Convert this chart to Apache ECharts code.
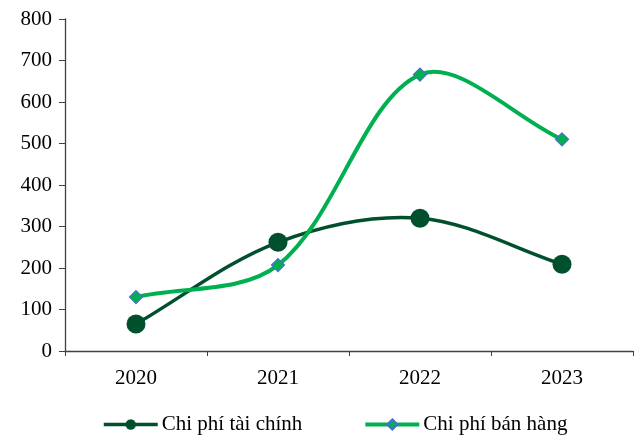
<!DOCTYPE html>
<html><head><meta charset="utf-8">
<script src="https://cdn.jsdelivr.net/npm/echarts@6/dist/echarts.min.js"></script>
<style>html,body{margin:0;padding:0;background:#fff}#c{width:642px;height:436px}</style>
</head><body><div id="c"></div>
<script>
var categories = ['2020', '2021', '2022', '2023'];
var taiChinh = [65, 262, 320, 209];
var banHang = [130, 207, 666, 510];
var yTicks = {min: 0, max: 800, interval: 100};
var font = '"Liberation Serif", "Times New Roman", serif';
var DARK = '#00502E', LIGHT = '#00B050';

// Excel-like smooth curve (Catmull-Rom style Bezier, tension 1/6, length weighted)
function smoothRenderer(values, color, width) {
  return function (params, api) {
    var i = params.dataIndex;
    if (i >= values.length - 1) return null;
    var P = function (k) {
      k = Math.max(0, Math.min(values.length - 1, k));
      return api.coord([k, values[k]]);
    };
    var p0 = P(i - 1), p1 = P(i), p2 = P(i + 1), p3 = P(i + 2);
    var d = function (a, b) { return Math.hypot(b[0] - a[0], b[1] - a[1]); };
    var d01 = d(p0, p1), d12 = d(p1, p2), d23 = d(p2, p3);
    var f = 1 / 6;
    var f1 = (d01 + d12) > 0 ? f * 2 * d12 / (d01 + d12) : 0;
    var f2 = (d12 + d23) > 0 ? f * 2 * d12 / (d12 + d23) : 0;
    var c1 = [p1[0] + (p2[0] - p0[0]) * f1, p1[1] + (p2[1] - p0[1]) * f1];
    var c2 = [p2[0] - (p3[0] - p1[0]) * f2, p2[1] - (p3[1] - p1[1]) * f2];
    return {
      type: 'bezierCurve',
      shape: {x1: p1[0], y1: p1[1], cpx1: c1[0], cpy1: c1[1], cpx2: c2[0], cpy2: c2[1], x2: p2[0], y2: p2[1]},
      style: {stroke: color, lineWidth: width, fill: null, lineCap: 'round'}
    };
  };
}
function idx(values) { return values.map(function (v, k) { return [k, v]; }); }

var chart = echarts.init(document.getElementById('c'));
chart.setOption({
  animation: false,
  grid: {left: 65, right: 9, top: 19, bottom: 85, containLabel: false},
  xAxis: {
    type: 'category', data: categories, boundaryGap: true,
    axisLine: {lineStyle: {color: '#404040', width: 1.3}},
    axisTick: {show: true, length: 5, lineStyle: {color: '#404040'}},
    axisLabel: {color: '#000', fontFamily: font, fontSize: 21, margin: 17}
  },
  yAxis: {
    type: 'value', min: yTicks.min, max: yTicks.max, interval: yTicks.interval,
    splitLine: {show: false},
    axisLine: {show: true, lineStyle: {color: '#404040', width: 1.3}},
    axisTick: {show: true, length: 6, lineStyle: {color: '#404040'}},
    axisLabel: {color: '#000', fontFamily: font, fontSize: 21, margin: 13}
  },
  legend: {
    top: 409, left: 97, itemGap: 61, itemWidth: 54, itemHeight: 13,
    textStyle: {color: '#000', fontFamily: font, fontSize: 21, padding: [0, 0, 0, -1]},
    data: [
      {name: 'Chi phí tài chính', lineStyle: {color: DARK, width: 3.5, opacity: 1}},
      {name: 'Chi phí bán hàng', lineStyle: {color: LIGHT, width: 4, opacity: 1}}
    ]
  },
  series: [
    {
      name: 'curve1', type: 'custom', data: idx(taiChinh), encode: {x: 0, y: 1},
      renderItem: smoothRenderer(taiChinh, DARK, 3.5), z: 1, silent: true
    },
    {
      name: 'curve2', type: 'custom', data: idx(banHang), encode: {x: 0, y: 1},
      renderItem: smoothRenderer(banHang, LIGHT, 4), z: 1, silent: true
    },
    {
      name: 'Chi phí tài chính', type: 'line', data: taiChinh,
      symbol: 'circle', symbolSize: 19,
      lineStyle: {color: DARK, width: 3.5, opacity: 0},
      itemStyle: {color: DARK, borderWidth: 0},
      z: 3
    },
    {
      name: 'Chi phí bán hàng', type: 'line', data: banHang,
      symbol: 'diamond', symbolSize: 13,
      lineStyle: {color: LIGHT, width: 4, opacity: 0},
      itemStyle: {color: LIGHT, borderColor: '#4472C4', borderWidth: 1.2},
      z: 4
    }
  ]
});
</script></body></html>
